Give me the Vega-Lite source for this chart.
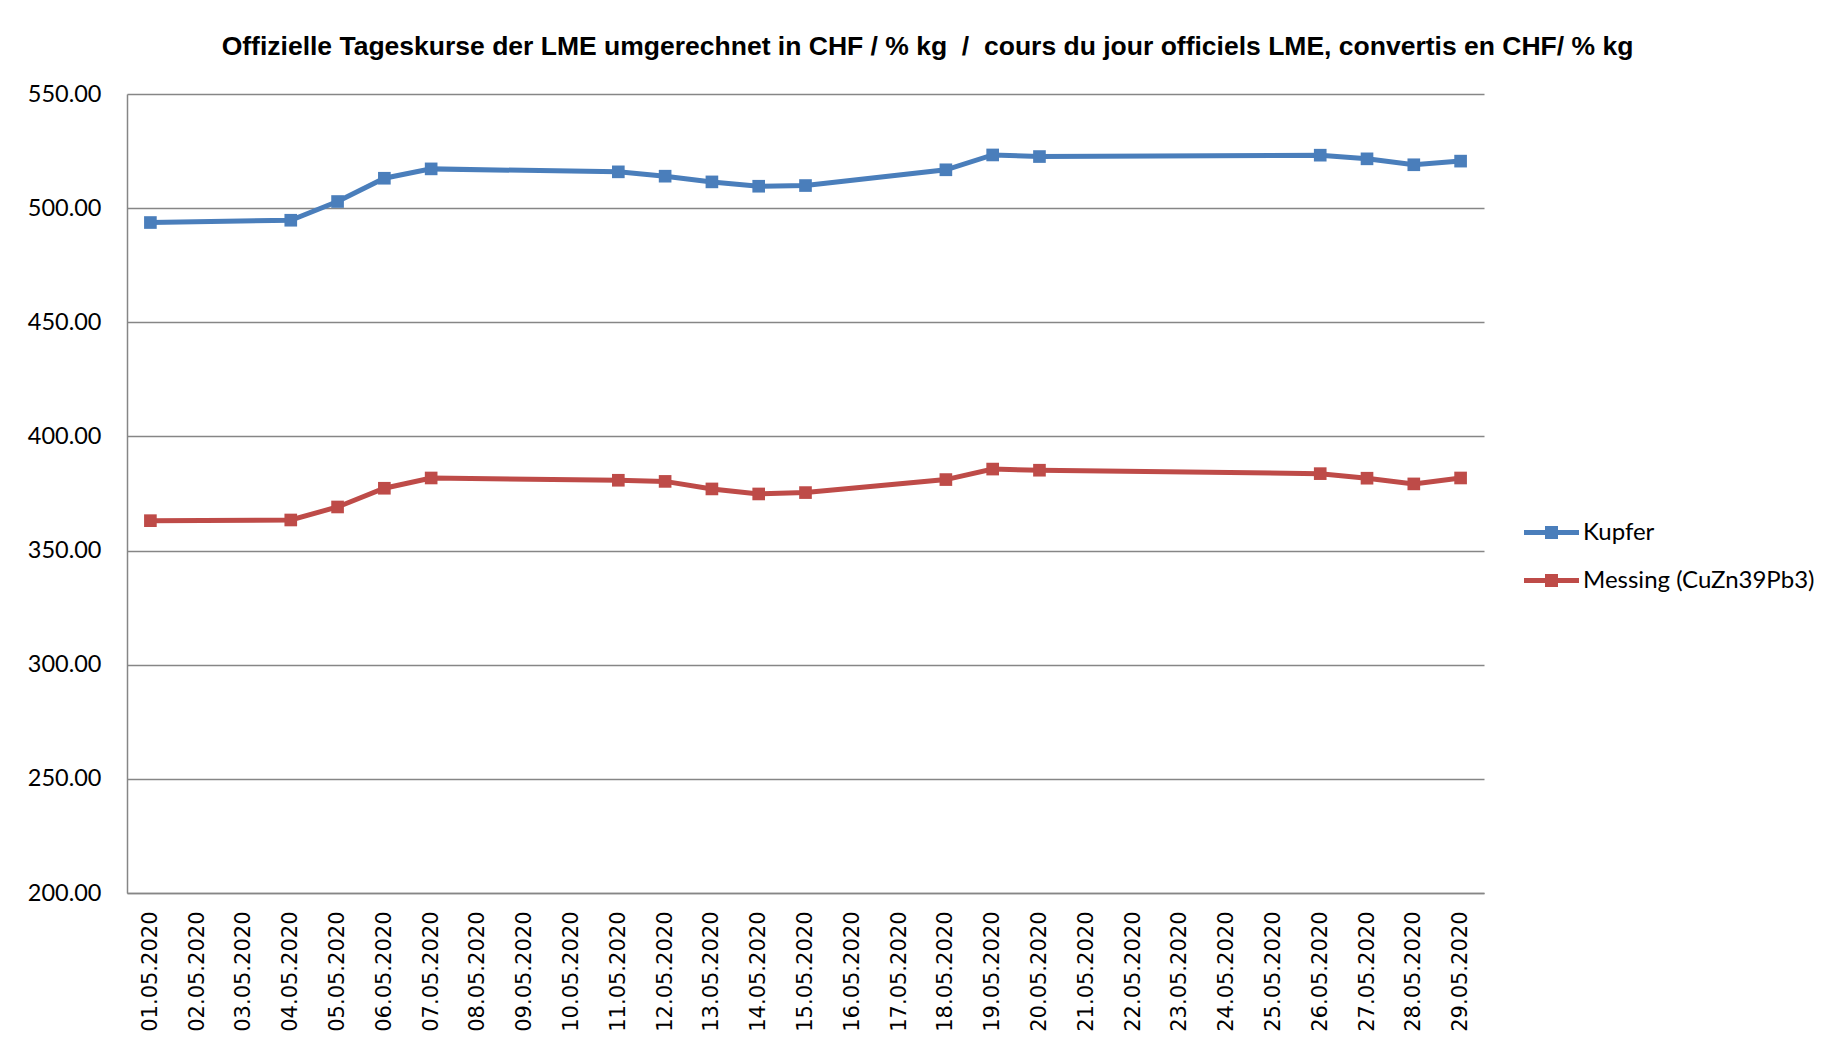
{
  "$schema": "https://vega.github.io/schema/vega-lite/v6.json",
  "autosize": {"type": "none"},
  "width": 1357,
  "height": 799,
  "padding": {"left": 127, "top": 94, "right": 343, "bottom": 152},
  "background": "white",
  "title": {
    "text": "Offizielle Tageskurse der LME umgerechnet in CHF / % kg\u00a0\u00a0/\u00a0\u00a0cours du jour officiels LME, convertis en CHF/ % kg",
    "font": "Liberation Sans",
    "fontSize": 26.5,
    "fontWeight": "bold",
    "color": "black",
    "anchor": "middle",
    "baseline": "alphabetic",
    "offset": 1,
    "dx": 122
  },
  "data": {
    "values": [
      {"date": "01.05.2020", "series": "Kupfer", "value": 493.7},
      {"date": "04.05.2020", "series": "Kupfer", "value": 494.7},
      {"date": "05.05.2020", "series": "Kupfer", "value": 502.9},
      {"date": "06.05.2020", "series": "Kupfer", "value": 513.1},
      {"date": "07.05.2020", "series": "Kupfer", "value": 517.2},
      {"date": "11.05.2020", "series": "Kupfer", "value": 515.9},
      {"date": "12.05.2020", "series": "Kupfer", "value": 514.0},
      {"date": "13.05.2020", "series": "Kupfer", "value": 511.5},
      {"date": "14.05.2020", "series": "Kupfer", "value": 509.6},
      {"date": "15.05.2020", "series": "Kupfer", "value": 509.9},
      {"date": "18.05.2020", "series": "Kupfer", "value": 516.8},
      {"date": "19.05.2020", "series": "Kupfer", "value": 523.3},
      {"date": "20.05.2020", "series": "Kupfer", "value": 522.6},
      {"date": "26.05.2020", "series": "Kupfer", "value": 523.2},
      {"date": "27.05.2020", "series": "Kupfer", "value": 521.6},
      {"date": "28.05.2020", "series": "Kupfer", "value": 519.0},
      {"date": "29.05.2020", "series": "Kupfer", "value": 520.6},
      {"date": "01.05.2020", "series": "Messing (CuZn39Pb3)", "value": 363.1},
      {"date": "04.05.2020", "series": "Messing (CuZn39Pb3)", "value": 363.4},
      {"date": "05.05.2020", "series": "Messing (CuZn39Pb3)", "value": 369.1},
      {"date": "06.05.2020", "series": "Messing (CuZn39Pb3)", "value": 377.3},
      {"date": "07.05.2020", "series": "Messing (CuZn39Pb3)", "value": 381.8},
      {"date": "11.05.2020", "series": "Messing (CuZn39Pb3)", "value": 380.8},
      {"date": "12.05.2020", "series": "Messing (CuZn39Pb3)", "value": 380.3},
      {"date": "13.05.2020", "series": "Messing (CuZn39Pb3)", "value": 377.0},
      {"date": "14.05.2020", "series": "Messing (CuZn39Pb3)", "value": 374.8},
      {"date": "15.05.2020", "series": "Messing (CuZn39Pb3)", "value": 375.4},
      {"date": "18.05.2020", "series": "Messing (CuZn39Pb3)", "value": 381.1},
      {"date": "19.05.2020", "series": "Messing (CuZn39Pb3)", "value": 385.7},
      {"date": "20.05.2020", "series": "Messing (CuZn39Pb3)", "value": 385.2},
      {"date": "26.05.2020", "series": "Messing (CuZn39Pb3)", "value": 383.7},
      {"date": "27.05.2020", "series": "Messing (CuZn39Pb3)", "value": 381.7},
      {"date": "28.05.2020", "series": "Messing (CuZn39Pb3)", "value": 379.2},
      {"date": "29.05.2020", "series": "Messing (CuZn39Pb3)", "value": 381.8}
    ]
  },
  "mark": {
    "type": "line",
    "strokeWidth": 5,
    "point": {"shape": "square", "size": 160, "filled": true, "opacity": 1}
  },
  "encoding": {
    "x": {
      "field": "date",
      "type": "ordinal",
      "sort": null,
      "scale": {
        "domain": ["01.05.2020","02.05.2020","03.05.2020","04.05.2020","05.05.2020","06.05.2020","07.05.2020","08.05.2020","09.05.2020","10.05.2020","11.05.2020","12.05.2020","13.05.2020","14.05.2020","15.05.2020","16.05.2020","17.05.2020","18.05.2020","19.05.2020","20.05.2020","21.05.2020","22.05.2020","23.05.2020","24.05.2020","25.05.2020","26.05.2020","27.05.2020","28.05.2020","29.05.2020"]
      },
      "axis": {
        "title": null,
        "labelAngle": 270,
        "labelAlign": "right",
        "labelBaseline": "middle",
        "labelFont": "DejaVu Sans",
        "labelFontSize": 21,
        "labelColor": "black",
        "labelPadding": 18,
        "ticks": false,
        "grid": false,
        "domainColor": "#868686",
        "domainWidth": 1.5,
        "labelOverlap": false
      }
    },
    "y": {
      "field": "value",
      "type": "quantitative",
      "scale": {"domain": [200, 550], "nice": false, "zero": false},
      "axis": {
        "title": null,
        "values": [200, 250, 300, 350, 400, 450, 500, 550],
        "format": ".2f",
        "labelFont": "Lato",
        "labelFontSize": 23.5,
        "labelColor": "black",
        "labelPadding": 26,
        "ticks": false,
        "grid": true,
        "gridColor": "#868686",
        "gridWidth": 1.5,
        "domainColor": "#868686",
        "domainWidth": 1.5
      }
    },
    "color": {
      "field": "series",
      "type": "nominal",
      "scale": {"domain": ["Kupfer", "Messing (CuZn39Pb3)"], "range": ["#4a7ebb", "#be4b48"]},
      "legend": {
        "title": null,
        "orient": "none",
        "legendX": 1397,
        "legendY": 411,
        "symbolType": "M-1,-0.09H-0.236V-0.236H0.236V-0.09H1V0.09H0.236V0.236H-0.236V0.09H-1Z",
        "symbolSize": 3025,
        "symbolStrokeWidth": 0,
        "labelFont": "Lato",
        "labelFontSize": 24,
        "labelColor": "black",
        "labelOffset": 4,
        "labelLimit": 0,
        "rowPadding": 8,
        "encode": {
          "symbols": {"update": {"fill": {"scale": "color", "field": "value"}, "strokeWidth": {"value": 0}, "opacity": {"value": 1}}}
        }
      }
    }
  },
  "config": {"view": {"stroke": null}}
}
